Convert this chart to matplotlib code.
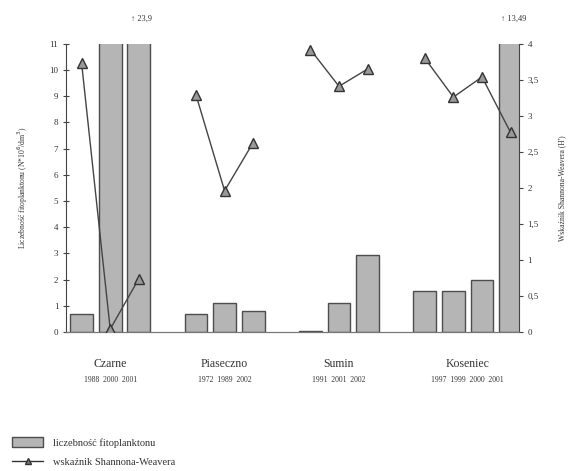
import numpy as np
import matplotlib.pyplot as plt
from matplotlib.patches import Patch
from matplotlib.lines import Line2D

plt.rcParams['font.family'] = ['Liberation Serif', 'DejaVu Serif']

lakes = ["Czarne", "Piaseczno", "Sumin", "Koseniec"]
years = [["1988", "2000", "2001"],
         ["1972", "1989", "2002"],
         ["1991", "2001", "2002"],
         ["1997", "1999", "2000", "2001"]]
# phytoplankton abundance (N*10^6/dm3)
abundance = [[0.7, 12.0, 23.9],
             [0.7, 1.1, 0.8],
             [0.05, 1.1, 2.93],
             [1.55, 1.55, 2.0, 13.49]]
# Shannon-Weaver index (H')
shannon = [[3.73, 0.04, 0.74],
           [3.29, 1.96, 2.63],
           [3.92, 3.41, 3.65],
           [3.8, 3.26, 3.54, 2.77]]
clipped = {(0, 2): "\u2191 23,9", (3, 3): "\u2191 13,49"}

txt = '#333333'
fig = plt.figure(figsize=(5.68, 4.71), dpi=100)
ax = fig.add_axes([0.116, 0.295, 0.798, 0.612])
ax2 = ax.twinx()

pos = 0
for g, lake in enumerate(lakes):
    xs = np.arange(pos, pos + len(abundance[g]))
    ax.bar(xs, abundance[g], width=0.8, color='#b5b5b5',
           edgecolor='#4d4d4d', linewidth=1.0, zorder=2)
    ax2.plot(xs, shannon[g], color='#444444', lw=1.0, marker='^',
             markersize=6.5, markerfacecolor='#999999',
             markeredgecolor='#333333', zorder=3)
    ax.text(xs.mean(), -0.11, lake, transform=ax.get_xaxis_transform(),
            ha='center', va='center', fontsize=8.5, color=txt)
    ax.text(xs.mean(), -0.165, "  ".join(years[g]),
            transform=ax.get_xaxis_transform(), ha='center', va='center',
            fontsize=5.5, color=txt)
    for (gi, bi), lab in clipped.items():
        if gi == g:
            ax.text(xs[bi] + 0.1, 1.085, lab, transform=ax.get_xaxis_transform(),
                    ha='center', va='center', fontsize=6, color=txt)
    pos += len(abundance[g]) + 1

ax.set_xlim(-0.55, 15.3)
ax.set_ylim(0, 11)
ax2.set_ylim(0, 4)
ax.set_yticks(range(0, 12))
ax2.set_yticks(np.arange(0, 4.01, 0.5))
ax2.set_yticklabels([("%g" % v).replace('.', ',') for v in np.arange(0, 4.01, 0.5)])
ax.set_xticks([])

for a in (ax, ax2):
    a.spines['top'].set_visible(False)
    a.spines['bottom'].set_color('#777777')
    a.spines['bottom'].set_linewidth(0.8)
ax.spines['right'].set_visible(False)
ax2.spines['left'].set_visible(False)
ax.spines['left'].set_color('#444444')
ax2.spines['right'].set_color('#444444')
ax.tick_params(axis='y', direction='inout', length=5, labelsize=6.5,
               colors='#444444', labelcolor=txt, pad=3)
ax2.tick_params(axis='y', direction='out', length=3, labelsize=6.5,
                colors='#444444', labelcolor=txt, pad=3)

ax.set_ylabel("Liczebność fitoplanktonu (N*10$^6$/dm$^3$)", fontsize=5.5,
              color=txt, labelpad=14)
ax2.set_ylabel("Wskaźnik Shannona-Weavera (H')", fontsize=5.5, color=txt,
               rotation=90, labelpad=14)

handles = [Patch(facecolor='#b5b5b5', edgecolor='#4d4d4d'),
           Line2D([], [], color='#333333', lw=1.0, marker='^', markersize=4,
                  markerfacecolor='#777777')]
fig.legend(handles, ["liczebność fitoplanktonu", "wskaźnik Shannona-Weavera"],
           loc='lower left', bbox_to_anchor=(0.005, -0.012), frameon=False,
           fontsize=7.5, handlelength=3.0, handleheight=1.0, labelspacing=0.9,
           handletextpad=0.9, labelcolor=txt)

fig.savefig("out.png", dpi=100)
